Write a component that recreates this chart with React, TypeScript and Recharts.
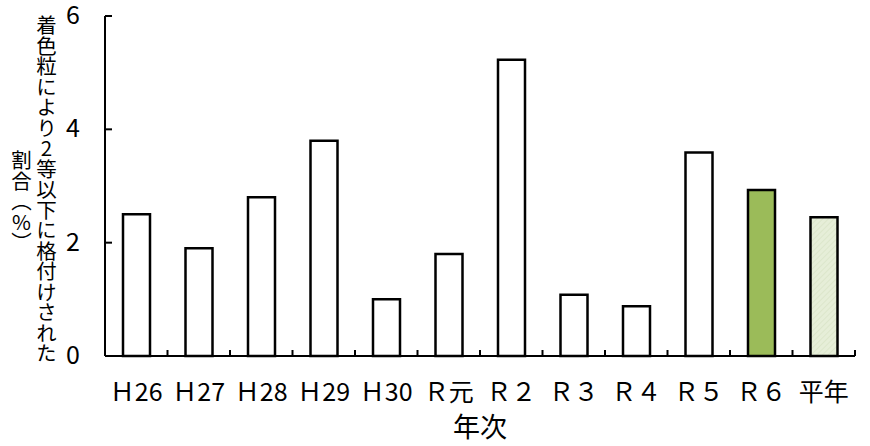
import React from 'react';
import { BarChart, Bar, XAxis, YAxis, Cell } from 'recharts';

const categories = ['Ｈ26', 'Ｈ27', 'Ｈ28', 'Ｈ29', 'Ｈ30', 'Ｒ元', 'Ｒ２', 'Ｒ３', 'Ｒ４', 'Ｒ５', 'Ｒ６', '平年'];
const ratios = [2.5, 1.9, 2.8, 3.8, 1.0, 1.8, 5.23, 1.08, 0.88, 3.59, 2.93, 2.45];
const yTicks = [0, 2, 4, 6];

const data = categories.map((name, i) => ({ name, value: ratios[i] }));

const W = 870;
const H = 446;
const M = { top: 16, right: 15, left: 0, bottom: 0 };
const Y_AXIS_W = 105;
const X_AXIS_H = 90;
const STEP = (W - M.left - M.right - Y_AXIS_W) / categories.length;
const FONT = '"Noto Sans CJK JP", "Noto Sans", sans-serif';

const fillFor = (name: string) => {
  if (name === 'Ｒ６') return '#9bbb59';
  if (name === '平年') return 'url(#hatchNormal)';
  return '#ffffff';
};

const XTick = (props: any) => {
  const { x, y, payload, index } = props;
  return (
    <g>
      <line x1={x - STEP / 2} y1={y} x2={x - STEP / 2} y2={y - 6} stroke="#000" strokeWidth={2} />
      {index === categories.length - 1 && (
        <line x1={x + STEP / 2} y1={y} x2={x + STEP / 2} y2={y - 6} stroke="#000" strokeWidth={2} />
      )}
      <text x={x} y={y + 34} textAnchor="middle" dominantBaseline="central" fontSize={25} fontFamily={FONT} fill="#000">
        {payload.value}
      </text>
    </g>
  );
};

const YTick = (props: any) => {
  const { x, y, payload } = props;
  return (
    <g>
      <line x1={x} y1={y} x2={x + 7} y2={y} stroke="#000" strokeWidth={2} />
      <text x={x - 25} y={y + 8} textAnchor="end" fontSize={25} fontFamily={FONT} fill="#000">
        {payload.value}
      </text>
    </g>
  );
};

export default function App() {
  return (
    <div style={{ position: 'absolute', left: 0, top: 0, width: W, height: H, background: '#fff' }}>
      <BarChart width={W} height={H} data={data} margin={M} barSize={27}>
        <defs>
          <pattern id="hatchNormal" width="4" height="4" patternUnits="userSpaceOnUse" patternTransform="rotate(45)">
            <rect width="4" height="4" fill="#e6eed8" />
            <line x1="0" y1="0" x2="0" y2="4" stroke="#d3dfbf" strokeWidth={1} />
          </pattern>
        </defs>
        <XAxis
          dataKey="name"
          height={X_AXIS_H}
          tickSize={0}
          tickMargin={0}
          tickLine={false}
          axisLine={{ stroke: '#000', strokeWidth: 2 }}
          tick={<XTick />}
          interval={0}
        />
        <YAxis
          width={Y_AXIS_W}
          domain={[0, 6]}
          ticks={yTicks}
          tickSize={0}
          tickMargin={0}
          tickLine={false}
          axisLine={{ stroke: '#000', strokeWidth: 2 }}
          tick={<YTick />}
          interval={0}
        />
        <Bar dataKey="value" stroke="#000" strokeWidth={2.5} isAnimationActive={false}>
          {data.map((d) => (
            <Cell key={`c-${d.name}`} fill={fillFor(d.name)} />
          ))}
        </Bar>
      </BarChart>
      <div
        style={{
          position: 'absolute',
          left: 36,
          top: 15,
          writingMode: 'vertical-rl',
          fontFamily: FONT,
          fontSize: 20.5,
          lineHeight: 1,
          color: '#000',
        }}
      >
        着色粒により<span style={{ textOrientation: 'upright' }}>2</span>等以下に格付けされた
      </div>
      <div
        style={{
          position: 'absolute',
          left: 11,
          top: 150,
          writingMode: 'vertical-rl',
          fontFamily: FONT,
          fontSize: 20.5,
          lineHeight: 1,
          color: '#000',
        }}
      >
        割合（<span style={{ textOrientation: 'upright' }}>%</span>）
      </div>
      <div
        style={{
          position: 'absolute',
          left: 0,
          width: 960,
          top: 412,
          textAlign: 'center',
          fontFamily: FONT,
          fontSize: 27,
          lineHeight: 1,
          color: '#000',
        }}
      >
        年次
      </div>
    </div>
  );
}
